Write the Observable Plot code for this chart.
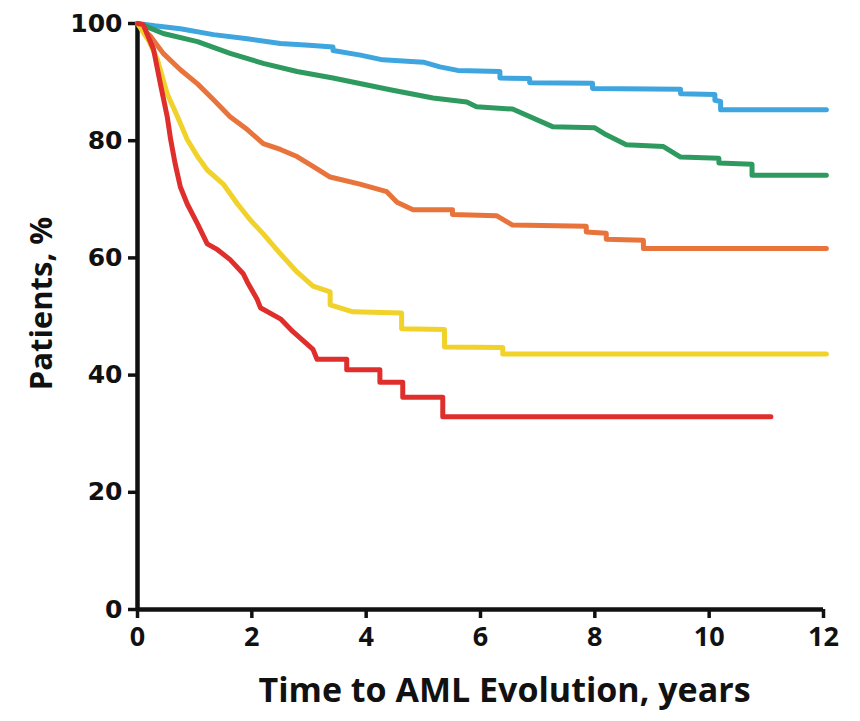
<!DOCTYPE html>
<html><head><meta charset="utf-8">
<script src="https://cdn.jsdelivr.net/npm/d3@7"></script>
<script src="https://cdn.jsdelivr.net/npm/@observablehq/plot@0.6"></script>
<style>
body{margin:0;background:#fff}
#chart svg{display:block}
</style>
</head><body><div id="chart"></div>
<script>
const xTicks = [0, 2, 4, 6, 8, 10, 12];
const yTicks = [0, 20, 40, 60, 80, 100];
const xLabel = "Time to AML Evolution, years";
const yLabel = "Patients, %";
const seriesNames = ["Group 1", "Group 2", "Group 3", "Group 4", "Group 5"];
const seriesColors = ["#3ea5df", "#2f9a60", "#e8743b", "#f0d22a", "#df2f2c"];

// [years, % patients]
const group1 = [[0,100],[0.3,99.6],[0.75,99.1],[1.33,98.1],[1.92,97.4],[2.5,96.6],[3.0,96.3],[3.42,96.0],[3.42,95.4],[3.9,94.6],[4.29,93.8],[5.0,93.4],[5.29,92.6],[5.6,92.0],[6.34,91.8],[6.34,90.7],[6.86,90.6],[6.86,89.9],[7.96,89.8],[7.96,88.9],[9.5,88.8],[9.5,88.0],[10.1,87.9],[10.1,86.9],[10.2,86.7],[10.2,85.3],[12.05,85.3]];
const group2 = [[0,100],[0.15,99.5],[0.45,98.3],[1.05,96.9],[1.62,94.9],[2.2,93.2],[2.79,91.8],[3.42,90.7],[4.42,88.7],[5.17,87.3],[5.76,86.6],[5.93,85.8],[6.56,85.4],[7.26,82.4],[8.0,82.2],[8.2,81.0],[8.55,79.3],[9.2,79.0],[9.5,77.2],[10.17,77.0],[10.17,76.2],[10.75,76.0],[10.75,74.1],[12.05,74.1]];
const group3 = [[0,100],[0.1,99],[0.23,97.8],[0.45,94.9],[0.75,92.1],[1.05,89.7],[1.33,87],[1.62,84.1],[1.92,81.9],[2.2,79.5],[2.5,78.5],[2.79,77.3],[3.07,75.6],[3.37,73.8],[3.89,72.6],[4.36,71.3],[4.54,69.5],[4.82,68.2],[5.51,68.2],[5.51,67.4],[6.28,67.2],[6.56,65.6],[7.85,65.4],[7.85,64.4],[8.2,64.2],[8.2,63.2],[8.85,63.0],[8.85,61.6],[12.05,61.6]];
const group4 = [[0,100],[0.2,97],[0.35,93.8],[0.52,88],[0.7,84.1],[0.87,80.2],[1.05,77.3],[1.22,75],[1.5,72.6],[1.75,69.2],[1.97,66.5],[2.2,64.1],[2.5,60.7],[2.79,57.6],[3.07,55.2],[3.37,54.2],[3.37,52],[3.77,50.8],[4.62,50.6],[4.62,47.9],[5.37,47.8],[5.37,44.8],[6.39,44.7],[6.39,43.6],[12.05,43.6]];
const group5 = [[0,100],[0.1,99.8],[0.28,95.6],[0.4,89.7],[0.52,84.1],[0.58,80.2],[0.66,76],[0.75,72.1],[0.87,69.2],[1.05,65.8],[1.22,62.4],[1.4,61.4],[1.62,59.7],[1.85,57.3],[1.92,55.9],[2.09,53],[2.15,51.5],[2.5,49.6],[2.72,47.4],[3.07,44.4],[3.14,42.7],[3.66,42.7],[3.66,40.9],[4.24,40.9],[4.24,38.8],[4.64,38.8],[4.64,36.2],[5.34,36.2],[5.34,32.9],[11.08,32.9]];

const allSeries = [group1, group2, group3, group4, group5];
const rows = [];
allSeries.forEach((arr, i) => arr.forEach(([t, s]) => rows.push({group: seriesNames[i], t, s})));

const chart = Plot.plot({
  width: 860,
  height: 721,
  marginTop: 23,
  marginBottom: 112,
  marginLeft: 137,
  marginRight: 37,
  style: {background: "#fff", color: "#111"},
  x: {domain: [0, 12]},
  y: {domain: [0, 100]},
  color: {domain: seriesNames, range: seriesColors},
  marks: [
    Plot.axisX({ticks: xTicks, tickSize: 9, tickPadding: 8, strokeWidth: 3.5, fontSize: 27, fontWeight: "bold", fontFamily: "Open Sans", label: null, color: "#111"}),
    Plot.axisY({ticks: yTicks, tickSize: 9, tickPadding: 6, strokeWidth: 3.5, fontSize: 25, fontWeight: "bold", fontFamily: "DejaVu Sans", label: null, color: "#111"}),
    Plot.ruleX([0], {stroke: "#111", strokeWidth: 4.5}),
    Plot.ruleY([0], {stroke: "#111", strokeWidth: 4.5}),
    Plot.line(rows, {x: "t", y: "s", z: "group", stroke: "group", strokeWidth: 5, curve: "linear"}),
    Plot.text([xLabel], {text: d => d, frameAnchor: "bottom", lineAnchor: "middle", dy: 82, dx: 24, fontSize: 34, fontWeight: "bold", fontFamily: "Open Sans", fill: "#111"}),
    Plot.text([yLabel], {text: d => d, frameAnchor: "left", textAnchor: "middle", lineAnchor: "middle", rotate: -90, dx: -95, dy: -13, fontSize: 31, fontWeight: "bold", fontFamily: "Open Sans", fill: "#111"})
  ]
});
document.getElementById("chart").append(chart);
</script>
</body></html>
